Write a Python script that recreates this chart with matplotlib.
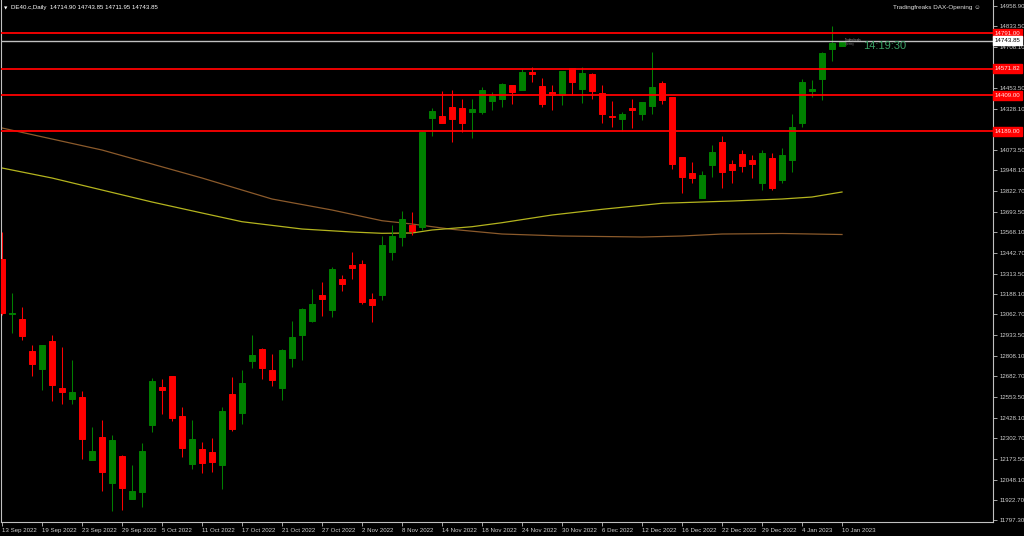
import matplotlib
matplotlib.use("Agg")
import matplotlib.pyplot as plt
import numpy as np

# ---------------- data ----------------
opens = [13401.7, 13068.5, 13036.5, 12838.0, 12727.4, 12899.5, 12610.6, 12541.1, 12557.1, 12168.0,
         12307.5, 12028.4, 12192.6, 11930.1, 11971.3, 12385.0, 12618.6, 12684.3, 12438.4, 12145.2,
         12235.6, 12219.0, 12137.2, 12573.7, 12455.0, 12776.5, 12852.2, 12721.2, 12608.7, 12796.8,
         12938.2, 13022.4, 13182.2, 13091.9, 13280.6, 13364.8, 13374.6, 13157.6, 13182.2, 13448.4,
         13540.6, 13610.7, 13598.4, 14272.1, 14282.5, 14336.0, 14329.9, 14309.0, 14309.0, 14376.6,
         14385.8, 14471.3, 14444.2, 14553.0, 14468.8, 14428.2, 14411.6, 14575.8, 14448.5, 14540.7,
         14423.9, 14285.6, 14262.3, 14329.9, 14294.8, 14344.0, 14485.4, 14397.5, 14028.7, 13932.2,
         13780.3, 13983.2, 14120.9, 13987.5, 14049.0, 14012.1, 13870.7, 14024.3, 13889.1, 14012.1,
         14241.4, 14436.2, 14511.8, 14692.5, 14714.90]
highs = [13567.6, 13194.5, 13108.5, 12874.9, 12875.0, 12936.4, 12862.5, 12782.7, 12592.1, 12369.0,
         12413.9, 12321.7, 12198.7, 12137.2, 12274.3, 12673.9, 12665.9, 12686.0, 12495.6, 12413.9,
         12280.5, 12301.4, 12495.6, 12680.0, 12721.2, 12934.5, 12856.4, 12819.6, 12848.4, 13022.4,
         13102.3, 13219.1, 13260.3, 13352.5, 13305.2, 13444.7, 13397.4, 13192.7, 13544.9, 13612.5,
         13700.4, 13692.4, 14190.3, 14329.9, 14436.2, 14442.4, 14385.2, 14385.2, 14459.0, 14430.1,
         14487.2, 14473.1, 14569.6, 14585.6, 14514.3, 14471.3, 14559.2, 14575.8, 14581.9, 14545.0,
         14473.1, 14374.8, 14309.0, 14388.9, 14370.5, 14677.8, 14497.7, 14399.3, 14030.5, 14001.6,
         13946.3, 14104.3, 14159.6, 14012.1, 14073.6, 14042.9, 14073.6, 14055.1, 14085.8, 14294.8,
         14508.1, 14503.8, 14677.8, 14835.8, 14743.85]
lows = [13059.3, 12948.6, 12905.6, 12686.2, 12598.3, 12530.7, 12514.1, 12514.1, 12176.0, 12166.0,
        11979.3, 11856.3, 11860.6, 11928.0, 11880.9, 12341.9, 12450.7, 12409.6, 12188.3, 12114.5,
        12089.9, 12096.1, 11989.7, 12348.0, 12389.3, 12735.3, 12665.9, 12624.7, 12536.8, 12741.5,
        12782.7, 13018.1, 13053.1, 13045.2, 13208.7, 13280.6, 13128.8, 13016.3, 13151.5, 13397.4,
        13485.3, 13552.9, 13581.8, 14161.5, 14237.7, 14120.9, 14186.0, 14149.2, 14293.0, 14316.4,
        14336.0, 14356.3, 14442.4, 14493.4, 14336.0, 14319.4, 14350.2, 14409.8, 14364.3, 14385.2,
        14241.4, 14213.1, 14192.2, 14208.8, 14258.0, 14294.8, 14358.1, 13958.6, 13809.2, 13870.7,
        13778.0, 13907.6, 13838.1, 13870.7, 13938.3, 13901.4, 13827.6, 13827.6, 13870.7, 13938.3,
        14216.8, 14401.2, 14380.9, 14622.5, 14711.95]
closes = [13069.7, 13071.6, 12932.1, 12759.9, 12873.0, 12629.0, 12586.0, 12584.1, 12298.9, 12223.3,
          12096.1, 12292.7, 11998.9, 11975.6, 12223.3, 12653.6, 12598.3, 12428.0, 12239.9, 12298.9,
          12147.7, 12157.5, 12469.2, 12358.5, 12641.3, 12811.6, 12731.7, 12657.9, 12844.1, 12925.9,
          13094.3, 13128.8, 13159.5, 13343.9, 13251.7, 13350.1, 13141.1, 13122.6, 13487.7, 13544.9,
          13647.6, 13577.5, 14186.0, 14315.1, 14241.4, 14265.9, 14237.7, 14325.6, 14442.4, 14405.5,
          14481.1, 14431.9, 14553.0, 14538.9, 14354.5, 14411.6, 14559.2, 14491.5, 14546.9, 14436.2,
          14294.8, 14278.2, 14293.0, 14321.3, 14366.8, 14462.6, 14382.8, 13987.5, 13907.6, 13899.6,
          13919.9, 14063.1, 13940.2, 13950.6, 13975.2, 13987.5, 14055.1, 13839.9, 14042.9, 14216.8,
          14493.4, 14448.5, 14668.0, 14733.1, 14743.85]

date_labels = ["13 Sep 2022", "19 Sep 2022", "23 Sep 2022", "29 Sep 2022", "5 Oct 2022",
               "11 Oct 2022", "17 Oct 2022", "21 Oct 2022", "27 Oct 2022", "2 Nov 2022",
               "8 Nov 2022", "14 Nov 2022", "18 Nov 2022", "24 Nov 2022", "30 Nov 2022",
               "6 Dec 2022", "12 Dec 2022", "16 Dec 2022", "22 Dec 2022", "29 Dec 2022",
               "4 Jan 2023", "10 Jan 2023"]
date_label_idx = list(range(0, 85, 4))

price_ticks = [14958.90, 14833.50, 14708.10, 14453.50, 14328.10, 14073.50, 13948.10, 13822.70,
               13693.50, 13568.10, 13442.70, 13313.50, 13188.10, 13062.70, 12933.50, 12808.10,
               12682.70, 12553.50, 12428.10, 12302.70, 12173.50, 12048.10, 11922.70, 11797.30]

ma_fast_idx = [0, 5, 10, 15, 20, 24, 30, 35, 38, 41, 43, 47, 50, 55, 60, 66, 73, 78, 81, 84]
ma_fast_val = [13962.9, 13901.4, 13827.6, 13753.9, 13686.3, 13632.8, 13587.9, 13569.5, 13561.5,
               13563.4, 13581.8, 13602.1, 13626.7, 13674.0, 13709.0, 13746.0, 13760.0, 13772.3,
               13784.6, 13815.4]
ma_slow_idx = [0, 10, 20, 27, 33, 38, 41, 45, 50, 56, 64, 68, 72, 78, 84]
ma_slow_val = [14208.8, 14073.5, 13901.4, 13772.3, 13704.7, 13638.9, 13618.6, 13586.0, 13557.2,
               13544.9, 13538.7, 13544.9, 13557.2, 13560.3, 13554.1]

red_levels = [14791.00, 14571.82, 14409.00, 14189.00]
bid_price = 14743.85

# ---------------- figure ----------------
FONT = ['Liberation Sans', 'DejaVu Sans']
plt.rcParams['font.family'] = FONT

W, H = 1024, 536
fig = plt.figure(figsize=(W / 100, H / 100), dpi=100, facecolor='black')
ax = fig.add_axes([1 / W, 14 / H, 992 / W, 522 / H])
ax.set_facecolor('black')
ax.set_xlim(-0.1, 99.1)
ax.set_ylim(11786.9, 14995.6)

GREEN = '#008000'
RED = '#ff0000'
GREY = '#c0c0c0'

# moving averages
ax.plot(ma_slow_idx, ma_slow_val, color='#8b5a2b', lw=0.9, zorder=1)
ax.plot(ma_fast_idx, ma_fast_val, color='#b4b41e', lw=0.9, zorder=1)

# candles
n = len(opens)
idx = np.arange(n)
o = np.array(opens); c = np.array(closes)
hi = np.array(highs); lo = np.array(lows)
cols = [GREEN if cc >= oo else RED for oo, cc in zip(o, c)]
ax.vlines(idx, lo, hi, colors=cols, linewidth=0.75, zorder=2)
ax.bar(idx, np.abs(c - o), bottom=np.minimum(o, c), width=0.62, color=cols,
       edgecolor=cols, linewidth=0.7, zorder=3)

# horizontal levels
for lv in red_levels:
    ax.axhline(lv, color=RED, lw=1.3, zorder=4)
ax.axhline(bid_price, color=GREY, lw=1.0, zorder=4)

# axes styling
for s in ['right', 'bottom', 'left']:
    ax.spines[s].set_color(GREY)
    ax.spines[s].set_linewidth(0.8)
ax.spines['top'].set_visible(False)

ax.yaxis.tick_right()
ax.set_yticks(price_ticks)
ax.set_yticklabels([f"{v:.2f}" for v in price_ticks])
ax.tick_params(axis='y', colors=GREY, labelcolor='#d0d0d0', labelsize=4.4, length=3,
               width=0.6, pad=1.5, direction='out')
ax.set_xticks(date_label_idx)
ax.set_xticklabels([date_labels[k] for k in range(len(date_label_idx))], ha='left')
ax.tick_params(axis='x', colors=GREY, labelcolor='#d0d0d0', labelsize=4.4, length=3,
               width=0.6, pad=1.5, direction='out')

# price boxes on axis
ytr = ax.get_yaxis_transform()
for lv in red_levels:
    ax.text(1.0015, lv, f"{lv:.2f}", transform=ytr, fontsize=4.4, color='#ffe6e6',
            va='center', ha='left', clip_on=False, zorder=10,
            bbox=dict(boxstyle='square,pad=0.32', fc=RED, ec=RED))
ax.text(1.0015, bid_price, f"{bid_price:.2f}", transform=ytr, fontsize=4.4, color='black',
        va='center', ha='left', clip_on=False, zorder=10,
        bbox=dict(boxstyle='square,pad=0.32', fc='white', ec='white'))

# header texts
fig.text(4 / W, 1 - 8 / H, '\u25bc', fontsize=3.2, color='white', va='center',
         family=['DejaVu Sans'])
fig.text(11 / W, 1 - 8 / H, 'DE40.c,Daily  14714.90 14743.85 14711.95 14743.85',
         fontsize=4.4, color='white', va='center')
fig.text(981 / W, 1 - 8 / H, 'Tradingfreaks DAX-Opening \u263a', fontsize=4.6,
         color='#e0e0e0', va='center', ha='right', family=FONT)

# clock and indicator label
fig.text(863 / W, 1 - 46 / H, '14:19:30', fontsize=8, color='#3aa066', va='center')
fig.text(845 / W, 1 - 40.5 / H, 'Tradingfreaks', fontsize=1.9, color='#a8a8a8',
         va='center')
fig.text(845 / W, 1 - 44.5 / H, 'Opening', fontsize=1.9, color='#707070',
         va='center')

fig.savefig('out.png', dpi=100, facecolor='black')
